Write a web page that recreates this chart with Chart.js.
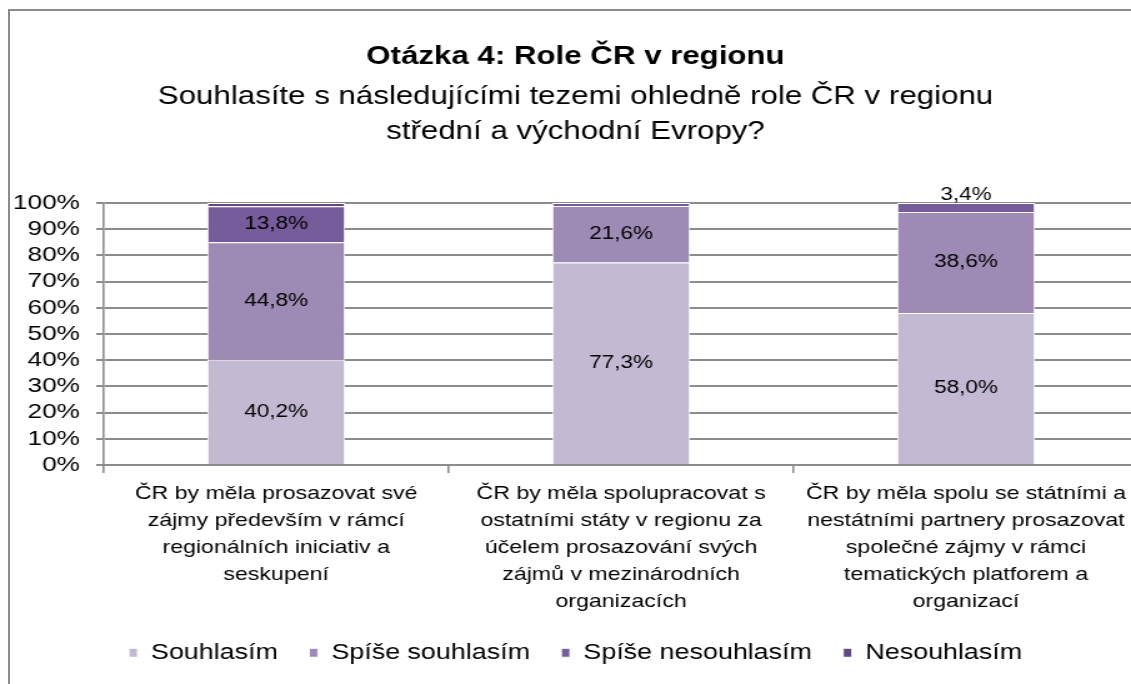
<!DOCTYPE html>
<html>
<head>
<meta charset="utf-8">
<script src="https://cdn.jsdelivr.net/npm/chart.js@4.4.1/dist/chart.umd.min.js"></script>
<style>
	html, body { margin: 0; padding: 0; background: #fff; overflow: hidden; width: 1131px; height: 684px; }
	#box { position: absolute; left: 8px; top: 9px; width: 1160px; height: 700px; border: 2px solid #8c8c8c; box-sizing: border-box; overflow: hidden; }
	/* the original picture is stretched sideways, so the drawing is widened the same way */
	#wrap { width: 905px; height: 690px; transform: scaleX(1.2497); transform-origin: 0 0; }
	#chart { display: block; }
</style>
</head>
<body>
<div id="box"><div id="wrap"><canvas id="chart" width="905" height="690"></canvas></div></div>
<script>
// Categories (x axis), broken into lines as in the original
var categories = [
	["ČR by měla prosazovat své", "zájmy především v rámcí", "regionálních iniciativ a", "seskupení"],
	["ČR by měla spolupracovat s", "ostatními státy v regionu za", "účelem prosazování svých", "zájmů v mezinárodních", "organizacích"],
	["ČR by měla spolu se státními a", "nestátními partnery prosazovat", "společné zájmy v rámci", "tematických platforem a", "organizací"]
];

// Series values (percent)
var souhlasim = [40.2, 77.3, 58.0];
var spiseSouhlasim = [44.8, 21.6, 38.6];
var spiseNesouhlasim = [13.8, 1.1, 3.4];
var nesouhlasim = [1.2, 0, 0];

var seriesNames = ["Souhlasím", "Spíše souhlasím", "Spíše nesouhlasím", "Nesouhlasím"];
var yTicks = [0, 10, 20, 30, 40, 50, 60, 70, 80, 90, 100];

var colors = ["#c3b9d3", "#9d8ab5", "#775c9b", "#5f4a80"];
var FONT = "'Liberation Sans', Arial, sans-serif";

// Percentage labels on the segments (small ones go above the bar)
var labelPlugin = {
	id: 'segLabels',
	afterDatasetsDraw: function(chart) {
		var ctx = chart.ctx;
		ctx.save();
		ctx.font = "18px " + FONT;
		ctx.fillStyle = "#000";
		ctx.textAlign = "center";
		ctx.textBaseline = "middle";
		chart.data.datasets.forEach(function(ds, i) {
			var meta = chart.getDatasetMeta(i);
			meta.data.forEach(function(bar, j) {
				var v = ds.data[j];
				if (v < 3) return;
				var txt = v.toFixed(1).replace('.', ',') + '%';
				var h = Math.abs(bar.base - bar.y);
				if (h > 24) {
					ctx.fillText(txt, bar.x, (bar.y + bar.base) / 2);
				} else {
					ctx.fillText(txt, bar.x, bar.y - 8);
				}
			});
		});
		ctx.restore();
	}
};

var series = [souhlasim, spiseSouhlasim, spiseNesouhlasim, nesouhlasim];
var datasets = [];
for (var i = 0; i < series.length; i++) {
	datasets.push({
		label: seriesNames[i],
		data: series[i],
		backgroundColor: colors[i],
		borderColor: "#ffffff",
		borderWidth: 1,
		barPercentage: 0.4,
		categoryPercentage: 1.0
	});
}

var ctx = document.getElementById('chart').getContext('2d');
var chart = new Chart(ctx, {
	type: 'bar',
	data: {
		labels: categories,
		datasets: datasets
	},
	options: {
		responsive: false,
		animation: false,
		devicePixelRatio: 1,
		layout: { padding: { left: 2, right: 2, top: 0, bottom: 27.5 } },
		plugins: {
			title: {
				display: true,
				text: "Otázka 4: Role ČR v regionu",
				color: "#000",
				font: { family: FONT, size: 25, weight: 'bold', lineHeight: 1.2 },
				padding: { top: 31, bottom: 0 }
			},
			subtitle: {
				display: true,
				text: ["Souhlasíte s následujícími tezemi ohledně role ČR v regionu", "střední a východní Evropy?"],
				color: "#000",
				font: { family: FONT, size: 25, lineHeight: 1.4 },
				padding: { top: 8, bottom: 53 }
			},
			legend: {
				position: 'bottom',
				labels: {
					color: "#000",
					font: { family: FONT, size: 21.5 },
					boxWidth: 7,
					boxHeight: 9,
					padding: 25
				}
			},
			tooltip: { enabled: false }
		},
		scales: {
			x: {
				stacked: true,
				afterFit: function(axis) { axis.height = 152; },
				grid: { display: true, drawOnChartArea: false, drawTicks: true, tickLength: 8, color: "#8c8c8c", lineWidth: 1.6, offset: true },
				border: { color: "#8c8c8c", width: 2 },
				ticks: {
					color: "#000",
					font: { family: FONT, size: 18.5, lineHeight: 1.46 },
					maxRotation: 0,
					autoSkip: false,
					padding: 7
				}
			},
			y: {
				stacked: true,
				min: 0,
				max: 100,
				afterBuildTicks: function(axis) {
					axis.ticks = yTicks.map(function(v) { return { value: v }; });
				},
				afterFit: function(axis) { axis.width = 73; },
				grid: { color: "#8c8c8c", lineWidth: 2, tickLength: 6 },
				border: { color: "#8c8c8c", width: 1.6 },
				ticks: {
					color: "#000",
					font: { family: FONT, size: 21 },
					padding: 13,
					autoSkip: false,
					callback: function(v) { return v + '%'; }
				}
			}
		}
	},
	plugins: [labelPlugin]
});
</script>
</body>
</html>
